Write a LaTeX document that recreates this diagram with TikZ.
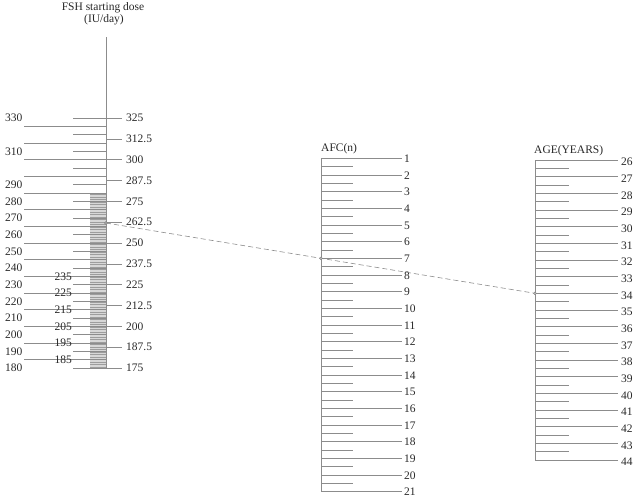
\documentclass[tikz,border=0pt]{standalone}
\usepackage{fontspec}
\setmainfont{Liberation Serif}
\begin{document}
\begin{tikzpicture}[x=1pt,y=-1pt,font=\fontsize{11.5}{13}\selectfont]
\definecolor{linec}{RGB}{140,140,140}
\definecolor{textc}{RGB}{40,40,40}
\tikzset{
  tick/.style={draw=linec,line width=0.6pt},
  axisline/.style={draw=linec,line width=0.7pt},
  lab/.style={text=textc,inner sep=0pt},
  hatch/.style={draw=linec!85,line width=0.5pt},
  guide/.style={draw=linec,line width=0.6pt,dash pattern=on 5pt off 3pt},
  mark dot/.style={circle,draw=linec!90!black,fill=linec!60,inner sep=0pt,minimum size=3pt}
}
\useasboundingbox (0,0) rectangle (640,499);

% ---------------- FSH scale ----------------
\node[lab] (fshA) at (103,8) {FSH starting dose};
\node[lab] (fshB) at (104,20) {(IU/day)};
% hatched bar
\fill[linec!35] (90,193.3) rectangle (106,368);
\foreach \k in {0,...,69} {
  \draw[hatch] (90,{194.5+\k*2.5}) -- (106,{194.5+\k*2.5});
}
% left long lines
\foreach \k in {0,...,14} {
  \draw[tick] (24,{126.33+\k*16.667}) -- (106,{126.33+\k*16.667});
}
% left short ticks
\foreach \k in {0,...,15} {
  \draw[tick] (73,{118+\k*16.667}) -- (106,{118+\k*16.667});
}
% right ticks and labels
\foreach \v [count=\i from 0] in {325,312.5,300,287.5,275,262.5,250,237.5,225,212.5,200,187.5,175} {
  \draw[tick] (106,{118+\i*20.8333}) -- (122,{118+\i*20.8333});
  \node[lab,anchor=west] (fr\i) at (126,{118+\i*20.8333}) {\v};
}
% left labels
\foreach \v/\k in {330/0,310/2,290/4,280/5,270/6,260/7,250/8,240/9,230/10,220/11,210/12,200/13,190/14,180/15} {
  \node[lab,anchor=east] (fl\v) at (22.5,{118+\k*16.667}) {\v};
}
% inner labels
\foreach \v/\k in {235/9,225/10,215/11,205/12,195/13,185/14} {
  \node[lab,anchor=east] (fi\v) at (72,{126.33+\k*16.667}) {\v};
}
\draw[axisline] (106,37) -- (106,368);

% ---------------- AFC scale ----------------
\node[lab,anchor=west] (afcT) at (321,149) {AFC(n)};
\foreach \n in {1,...,20} {
  \draw[tick] (321,{158.3+(\n-0.5)*16.667}) -- (353,{158.3+(\n-0.5)*16.667});
}
\foreach \n in {1,...,21} {
  \draw[tick] (321,{158.3+(\n-1)*16.667}) -- (402,{158.3+(\n-1)*16.667});
  \node[lab,anchor=west] (afc\n) at (404,{158.8+(\n-1)*16.667}) {\n};
}
\draw[axisline] (321,158.3) -- (321,491.7);

% ---------------- AGE scale ----------------
\node[lab,anchor=west] (ageT) at (534,151) {AGE(YEARS)};
\foreach \a in {26,...,43} {
  \draw[tick] (535,{160+(\a-25.5)*16.667}) -- (569,{160+(\a-25.5)*16.667});
}
\foreach \a in {26,...,44} {
  \draw[tick] (535,{160+(\a-26)*16.667}) -- (618,{160+(\a-26)*16.667});
  \node[lab,anchor=west] (age\a) at (621,{162+(\a-26)*16.667}) {\a};
}
\draw[axisline] (535,160) -- (535,460);

% ---------------- reading line ----------------
\coordinate (pF) at (106,223);
\coordinate (pA) at (321,258.3);
\coordinate (pG) at (535,293.3);
\draw[guide] (pF) -- (pA) -- (pG);
\node[mark dot] (dF) at (pF) {};
\node[mark dot] (dA) at (pA) {};
\node[mark dot] (dG) at (pG) {};
\end{tikzpicture}
\end{document}
